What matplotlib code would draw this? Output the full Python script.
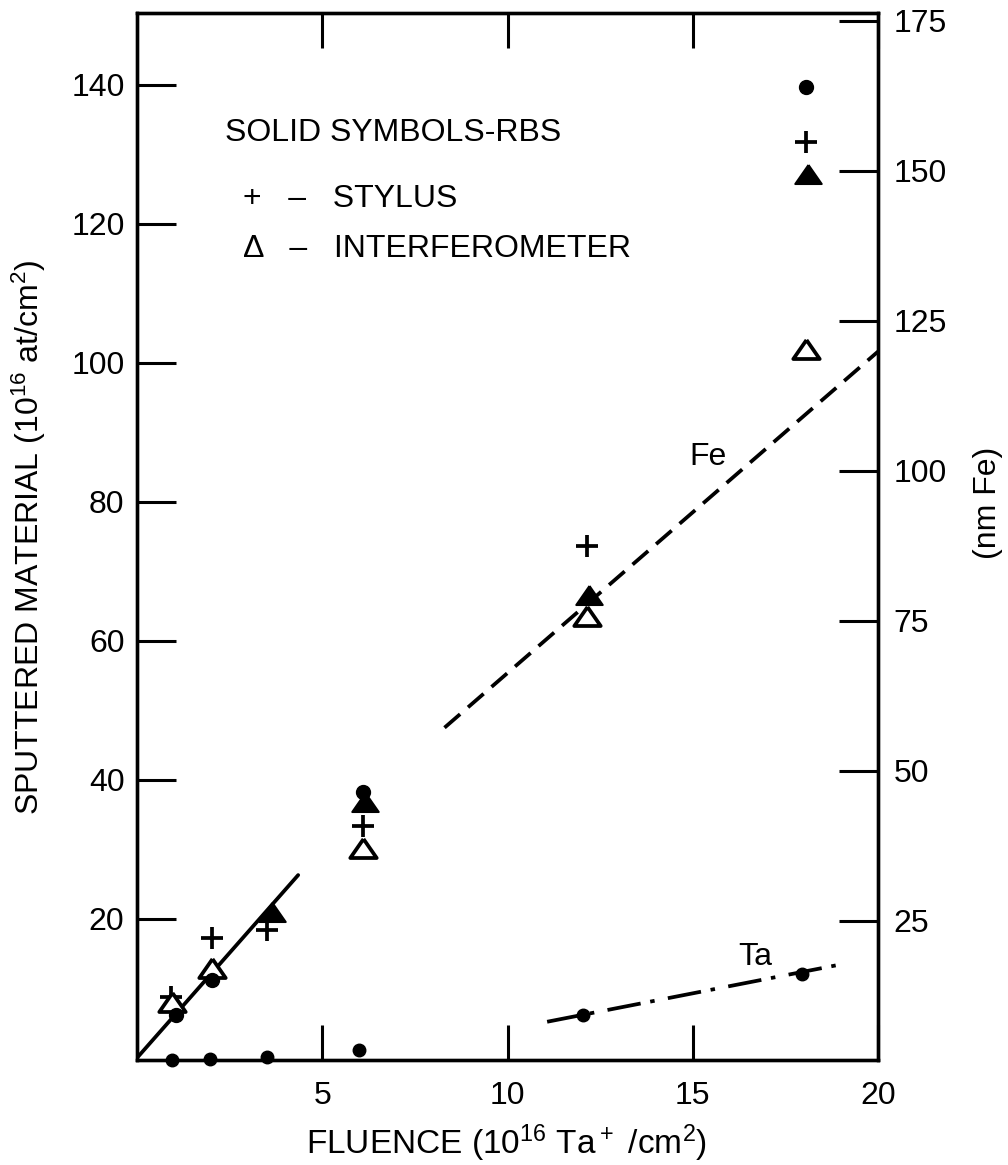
import matplotlib
matplotlib.use("Agg")
import matplotlib.pyplot as plt

plt.rcParams['font.family'] = ['Liberation Sans', 'DejaVu Sans']
plt.rcParams['mathtext.default'] = 'regular'

# ---- data ----
rbs_dot_x = [1.05, 2.03, 6.1, 18.05]
rbs_dot_y = [6.2, 11.2, 38.3, 139.6]

rbs_tri_x = [3.65, 6.15, 12.2, 18.1]
rbs_tri_y = [21.0, 36.8, 66.6, 127.2]

stylus_x = [0.92, 2.03, 3.5, 6.1, 12.15, 18.05]
stylus_y = [8.8, 17.3, 18.4, 33.4, 73.7, 131.8]

interf_x = [0.95, 2.03, 6.1, 12.15, 18.05]
interf_y = [8.1, 12.9, 30.2, 63.5, 101.9]

ta_x = [0.95, 1.97, 3.5, 6.0, 12.04, 17.95]
ta_y = [-0.3, -0.1, 0.1, 1.2, 6.2, 12.1]

fit_low_x = [0.0, 4.35]
fit_low_y = [0.0, 26.3]
fit_fe_x = [8.3, 20.0]
fit_fe_y = [47.5, 101.6]
fit_ta_x = [11.07, 18.95]
fit_ta_y = [5.2, 13.4]

x_ticks = [5, 10, 15, 20]
y_ticks = [20, 40, 60, 80, 100, 120, 140]
y2_ticks = [25, 50, 75, 100, 125, 150, 175]

W, H = 1008, 1165
fig = plt.figure(figsize=(W / 100, H / 100), dpi=100)
L, R, B, T = 137, 878, 1060, 13
ax = fig.add_axes([L / W, 1 - B / H, (R - L) / W, (B - T) / H])

FS = 23
LW = 2.7

ax.set_xlim(0, 20)
ax.set_ylim(-0.3, 150.3)

# flat triangle marker
tri = [(0, 0.72), (-1, -0.72), (1, -0.72), (0, 0.72)]

ax.plot(fit_low_x, fit_low_y, color='black', lw=LW, solid_capstyle='round')
ax.plot(fit_fe_x, fit_fe_y, color='black', lw=LW, dashes=(5.5, 2.8))
ax.plot(fit_ta_x, fit_ta_y, color='black', lw=LW, dashes=(9.0, 2.6, 1.2, 3.6))

ax.plot(stylus_x, stylus_y, ls='none', marker='+', ms=16, mew=2.7, color='black')
ax.plot(interf_x, interf_y, ls='none', marker=tri, ms=19, mew=2.7,
        mfc='white', mec='black')
ax.plot(rbs_tri_x, rbs_tri_y, ls='none', marker=tri, ms=19, mew=1.5,
        mfc='black', mec='black')
ax.plot(rbs_dot_x, rbs_dot_y, ls='none', marker='o', ms=10, color='black')
ax.plot(ta_x, ta_y, ls='none', marker='o', ms=9, color='black', clip_on=False,
        zorder=5)

# ticks
ax.set_xticks(x_ticks)
ax.set_yticks(y_ticks)
ax.tick_params(axis='x', direction='in', length=25, width=2.2, top=True,
               labelsize=FS, pad=15)
ax.tick_params(axis='y', direction='in', length=28, width=2.2, labelsize=FS,
               pad=9)
for s in ax.spines.values():
    s.set_linewidth(2.4)

ax2 = ax.twinx()
ax2.set_ylim(1.8, 176.3)
ax2.set_yticks(y2_ticks)
ax2.tick_params(axis='y', direction='in', length=28, width=2.2, labelsize=FS,
                pad=11)
for s in ax2.spines.values():
    s.set_linewidth(2.4)

# labels
fig.text(507 / W, 1 - 1143 / H, 'FLUENCE (10$^{16}$ Ta$^+$ /cm$^2$)',
         ha='center', va='center', fontsize=24)
fig.text(29 / W, 1 - 537 / H, 'SPUTTERED MATERIAL (10$^{16}$ at/cm$^2$)',
         ha='center', va='center', rotation=90, fontsize=FS)
fig.text(988 / W, 1 - 503 / H, '(nm Fe)', ha='center', va='center',
         rotation=90, fontsize=FS)

# in-plot key and annotations
ax.text(2.38, 133.1, 'SOLID SYMBOLS-RBS', ha='left', va='center', fontsize=FS)
ax.text(2.86, 123.5, '+   –   STYLUS', ha='left', va='center', fontsize=FS)
ax.text(2.86, 116.3, 'Δ   –   INTERFEROMETER', ha='left', va='center',
        fontsize=FS)
ax.text(15.4, 86.5, 'Fe', ha='center', va='center', fontsize=FS)
ax.text(16.7, 14.5, 'Ta', ha='center', va='center', fontsize=FS)

fig.savefig('out.png', dpi=100)
